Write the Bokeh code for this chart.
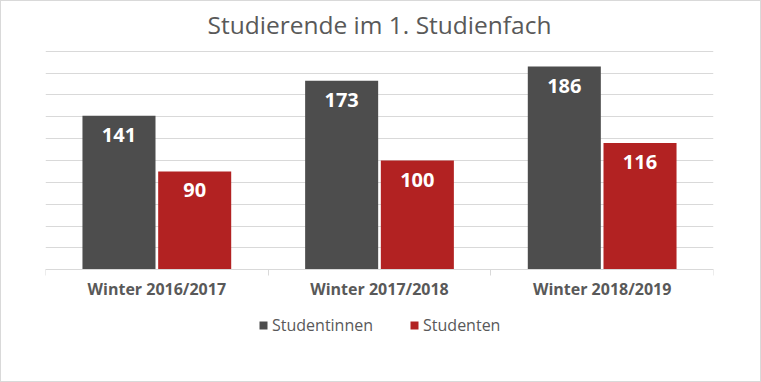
from bokeh.plotting import figure
from bokeh.models import (Range1d, FixedTicker, Grid, LabelSet, Label,
                          Legend, LegendItem, ColumnDataSource)
from bokeh.transform import dodge
from bokeh.core.properties import value
from bokeh.embed import file_html
from bokeh.resources import INLINE

title_text = "Studierende im 1. Studienfach"
categories = ["Winter 2016/2017", "Winter 2017/2018", "Winter 2018/2019"]
studentinnen = [141, 173, 186]
studenten = [90, 100, 116]
series_names = ["Studentinnen", "Studenten"]
y_max = 200
grid_step = 20

DARK = "#4d4d4d"
RED = "#b22222"
TXT = "#595959"
GRID = "#d9d9d9"
FONT = "Open Sans"

# layout (pixels); the 1px border around the figure adds 2px to each dimension
W, H = 759, 380
LEFT, RIGHT = 44, 47
FRAME_H = 340
TOP_PX, ZERO_PX = 49.7, 268.3        # where y_max and 0 sit inside the figure
ppu = (ZERO_PX - TOP_PX) / y_max
y_lo = -(FRAME_H - ZERO_PX) / ppu
y_hi = y_max + TOP_PX / ppu

xc = [i + 0.5 for i in range(len(categories))]
src = ColumnDataSource(dict(
    x=xc,
    a=studentinnen,
    b=studenten,
    a_lbl=[str(v) for v in studentinnen],
    b_lbl=[str(v) for v in studenten],
))

p = figure(frame_width=W - LEFT - RIGHT, frame_height=FRAME_H,
           x_range=Range1d(0, len(categories)), y_range=Range1d(y_lo, y_hi),
           y_axis_location=None, output_backend="svg", toolbar_location=None,
           min_border_left=LEFT, min_border_right=RIGHT, min_border_top=0,
           min_border_bottom=H - FRAME_H)
p.outline_line_color = None
p.xgrid.visible = False
p.ygrid.visible = False
p.add_layout(Grid(dimension=1, ticker=FixedTicker(ticks=list(range(0, y_max + 1, grid_step))),
                  grid_line_color=GRID, grid_line_width=1))
p.styles = {"border": "1px solid #d9d9d9"}

off = 0.17
bw = 0.328
r1 = p.vbar(x=dodge("x", -off, range=p.x_range), top="a", width=bw, bottom=0,
            source=src, fill_color=DARK, line_color=None)
r2 = p.vbar(x=dodge("x", off, range=p.x_range), top="b", width=bw, bottom=0,
            source=src, fill_color=RED, line_color=None)

for col, lbl, sign in (("a", "a_lbl", -1), ("b", "b_lbl", 1)):
    ls = LabelSet(x=dodge("x", sign * off, range=p.x_range), y=col, text=lbl, source=src,
                  text_align="center", text_baseline="middle", y_offset=-19,
                  text_color="white", text_font=value(FONT), text_font_size="20px",
                  text_font_style="bold")
    p.add_layout(ls)

ax = p.xaxis[0]
ax.fixed_location = 0
ax.ticker = FixedTicker(ticks=xc, minor_ticks=list(range(len(categories) + 1)))
ax.major_label_overrides = {x: c for x, c in zip(xc, categories)}
ax.axis_line_color = GRID
ax.major_tick_line_color = None
ax.minor_tick_line_color = GRID
ax.minor_tick_in = 0
ax.minor_tick_out = 6
ax.major_label_standoff = 2
ax.major_label_text_font = FONT
ax.major_label_text_font_size = "16px"
ax.major_label_text_font_style = "bold"
ax.major_label_text_color = TXT

p.add_layout(Label(x=len(categories) / 2, y=y_max, y_offset=27, text=title_text,
                   text_align="center", text_baseline="alphabetic",
                   text_font=FONT, text_font_size="24.5px", text_color=TXT))

legend = Legend(items=[LegendItem(label=series_names[0], renderers=[r1]),
                       LegendItem(label=series_names[1], renderers=[r2])],
                orientation="horizontal", location=(213, 5),
                glyph_width=10, glyph_height=10, label_standoff=4, spacing=36,
                padding=0, margin=0, border_line_color=None, background_fill_alpha=0,
                label_text_font=FONT, label_text_font_size="16px", label_text_color=TXT)
p.add_layout(legend)

open("out.html", "w").write(file_html(p, INLINE))
